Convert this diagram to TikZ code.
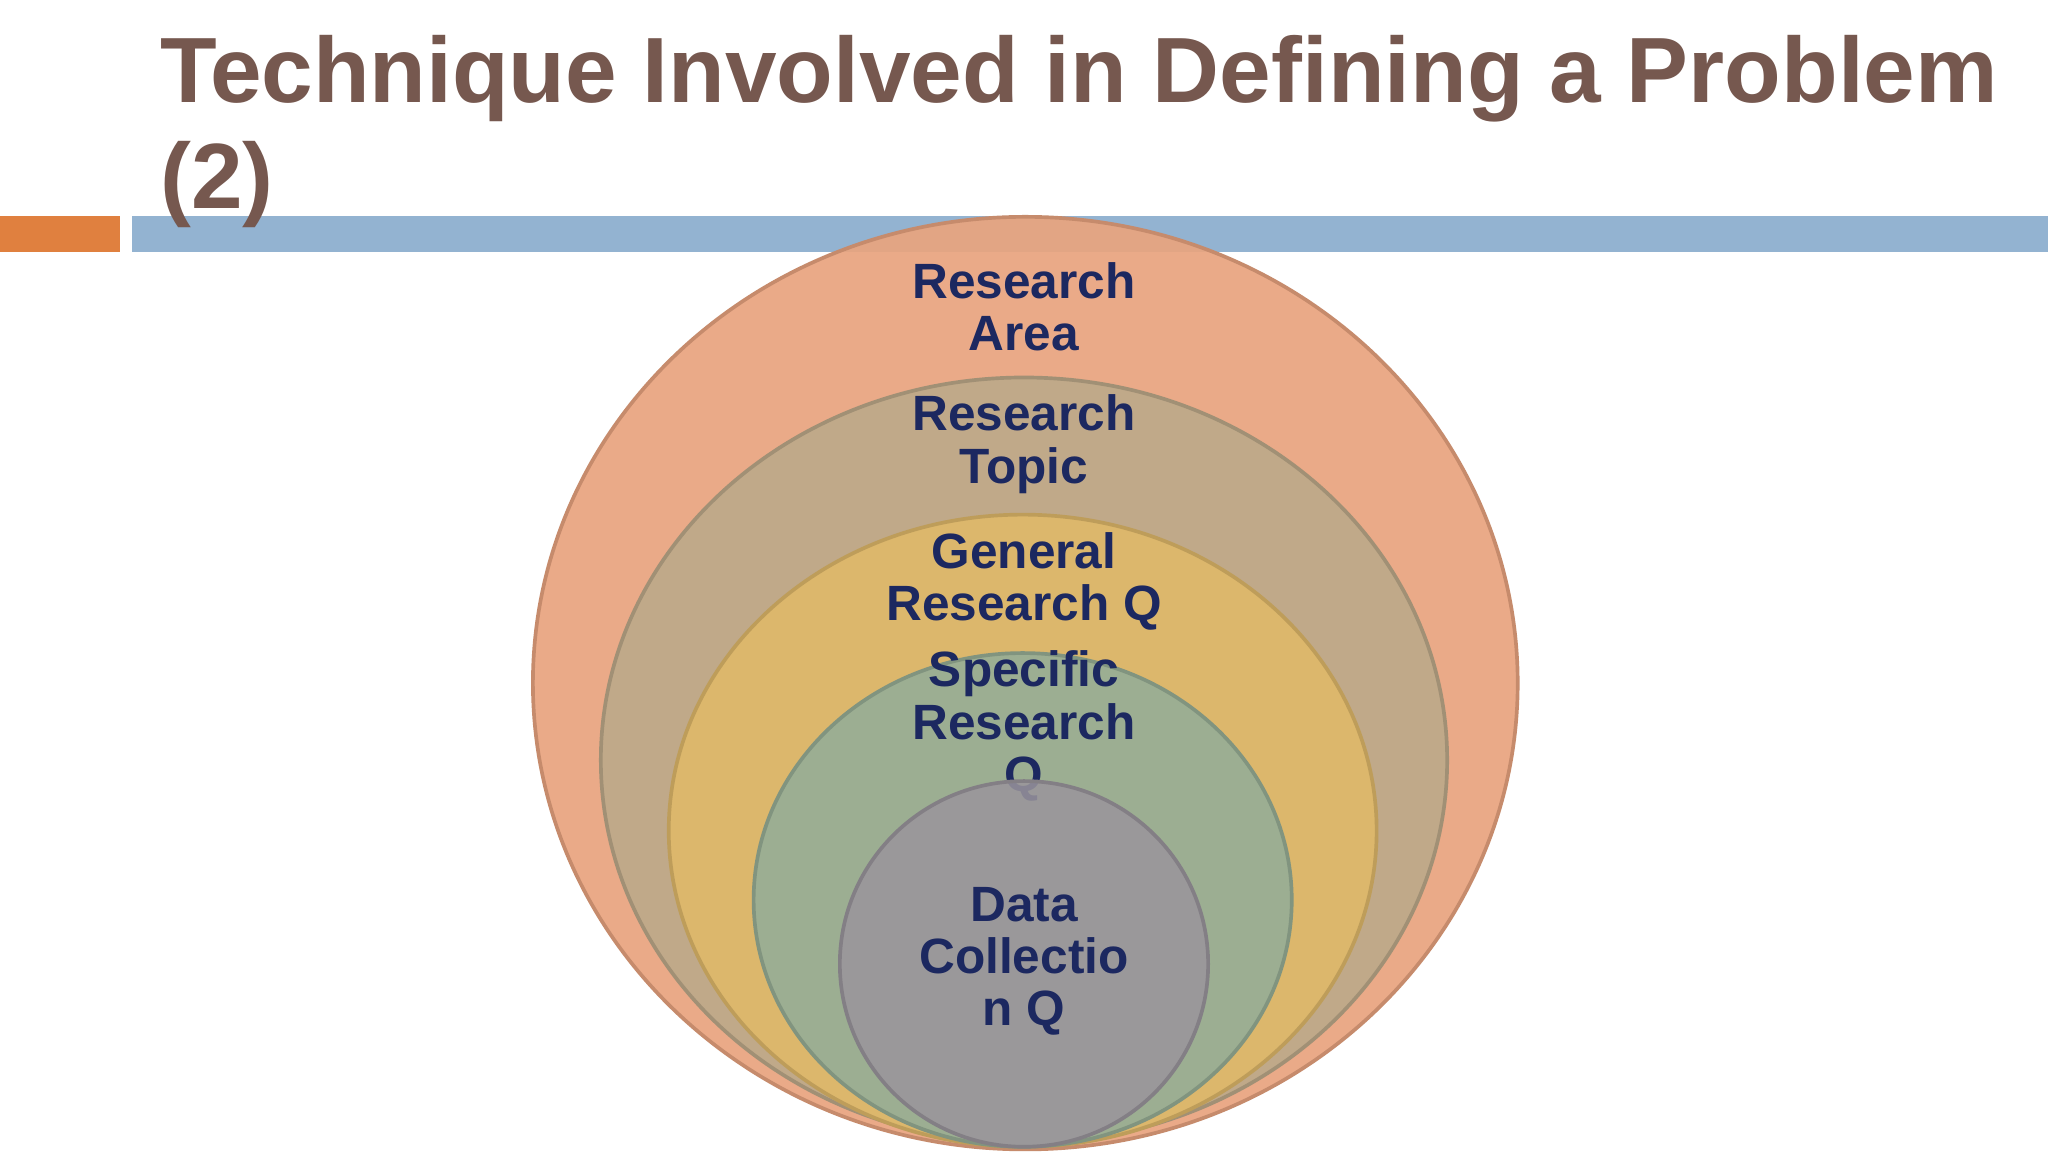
\documentclass[tikz,border=0pt]{standalone}
\usepackage{fontspec}
\setmainfont{Liberation Sans}
\definecolor{ttl}{HTML}{76584F}
\definecolor{lbl}{HTML}{1C2860}
\definecolor{cA}{HTML}{E9A47F}
\definecolor{cB}{HTML}{BDA98A}
\definecolor{cC}{HTML}{DFB96A}
\definecolor{cD}{HTML}{98AE95}
\definecolor{cE}{HTML}{9A959C}
\definecolor{barO}{HTML}{E0803F}
\definecolor{barB}{HTML}{93B3D1}
\begin{document}
\begin{tikzpicture}[x=0.1mm,y=-0.1mm,
  ring/.style={draw=#1!85!black, line width=0.8pt, fill=#1, fill opacity=0.93},
  lab/.style={text=lbl, font=\bfseries\fontsize{10.8pt}{11.4pt}\selectfont, align=center}]
\useasboundingbox (0,0) rectangle (1568,882);
\fill[white] (0,0) rectangle (1568,882);
\fill[barO] (0,165) rectangle (92,193);
\fill[barB] (101,165) rectangle (1568,193);
\fill[ring=cA] (785,523) ellipse [x radius=377, y radius=357];
\node[lab] (l1) at (784,235) {Research\\Area};
\fill[ring=cB] (784,582) ellipse [x radius=324, y radius=293];
\node[lab] (l2) at (784,340) {Research\\Topic};
\fill[ring=cC] (783,636) ellipse [x radius=271, y radius=242];
\node[lab] (l3) at (784,445) {General\\Research Q};
\fill[ring=cD] (783,689) ellipse [x radius=206, y radius=189];
\node[lab] (l4) at (784,556) {Specific\\Research\\Q};
\fill[ring=cE, fill opacity=0.85] (784,738) ellipse [x radius=141, y radius=140];
\node[lab] (l5) at (784,736) {Data\\Collectio\\n Q};
\node[anchor=base west, text=ttl, font=\bfseries\fontsize{20.2pt}{23.3pt}\selectfont, align=left, inner sep=0pt] (t) at (122,160) {Technique Involved in Defining a Problem\\(2)};
\end{tikzpicture}
\end{document}
